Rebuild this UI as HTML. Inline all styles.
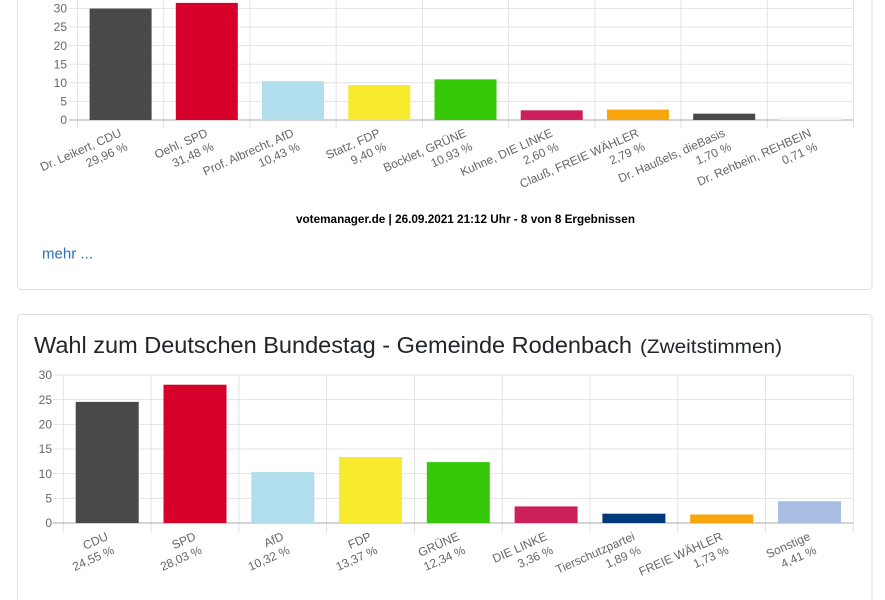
<!DOCTYPE html>
<html><head><meta charset="utf-8"><style>
html,body{margin:0;padding:0;background:#fff;width:885px;height:600px;overflow:hidden}
svg{display:block}
text{font-family:"Liberation Sans",Arial,sans-serif}
.t{fill:#666;font-size:12px}
</style></head><body>
<svg width="885" height="600" viewBox="0 0 885 600" xmlns="http://www.w3.org/2000/svg">
<!-- cards -->
<rect x="17.5" y="-10" width="854.5" height="299.5" rx="4" fill="none" stroke="#dedede"/>
<rect x="17.5" y="314.5" width="854.5" height="300" rx="4" fill="none" stroke="#dedede"/>

<!-- TOP CHART gridlines -->
<g stroke="#e3e3e3" stroke-width="1">
<line x1="69" y1="8.4" x2="853" y2="8.4"/>
<line x1="69" y1="27" x2="853" y2="27"/>
<line x1="69" y1="45.6" x2="853" y2="45.6"/>
<line x1="69" y1="64.2" x2="853" y2="64.2"/>
<line x1="69" y1="82.8" x2="853" y2="82.8"/>
<line x1="69" y1="101.4" x2="853" y2="101.4"/>
<line x1="77.5" y1="-20" x2="77.5" y2="128"/>
<line x1="163.7" y1="-20" x2="163.7" y2="128"/>
<line x1="249.9" y1="-20" x2="249.9" y2="128"/>
<line x1="336.2" y1="-20" x2="336.2" y2="128"/>
<line x1="422.4" y1="-20" x2="422.4" y2="128"/>
<line x1="508.6" y1="-20" x2="508.6" y2="128"/>
<line x1="594.8" y1="-20" x2="594.8" y2="128"/>
<line x1="681.0" y1="-20" x2="681.0" y2="128"/>
<line x1="767.3" y1="-20" x2="767.3" y2="128"/>
<line x1="853.5" y1="-20" x2="853.5" y2="128"/>
</g>
<line x1="69" y1="120" x2="853.5" y2="120" stroke="#a8a8a8"/>
<g class="t" text-anchor="end">
<text x="67" y="12.6">30</text>
<text x="67" y="31.2">25</text>
<text x="67" y="49.8">20</text>
<text x="67" y="68.4">15</text>
<text x="67" y="87">10</text>
<text x="67" y="105.6">5</text>
<text x="67" y="124.2">0</text>
</g>
<!-- top bars -->
<rect x="89.6" y="8.55" width="62" height="111.45" fill="#494949"/>
<rect x="175.8" y="2.9" width="62" height="117.1" fill="#d6002a"/>
<rect x="262.0" y="81.2" width="62" height="38.8" fill="#b0deed"/>
<rect x="348.3" y="85.03" width="62" height="34.97" fill="#f8ea2e"/>
<rect x="434.5" y="79.34" width="62" height="40.66" fill="#35c90a"/>
<rect x="520.7" y="110.33" width="62" height="9.67" fill="#cc1f5b"/>
<rect x="606.9" y="109.62" width="62" height="10.38" fill="#f7a50b"/>
<rect x="693.2" y="113.68" width="62" height="6.32" fill="#494949"/>
<rect x="779.4" y="117.36" width="62" height="2.64" fill="#eef3f7"/>
<!-- top x labels -->
<g class="t" text-anchor="end">
<g transform="translate(120.6,132) rotate(-24)"><text x="0" y="4.2">Dr. Leikert, CDU</text><text x="0" y="19.2">29,96 %</text></g>
<g transform="translate(206.8,132) rotate(-24)"><text x="0" y="4.2">Oehl, SPD</text><text x="0" y="19.2">31,48 %</text></g>
<g transform="translate(293.0,132) rotate(-24)"><text x="0" y="4.2">Prof. Albrecht, AfD</text><text x="0" y="19.2">10,43 %</text></g>
<g transform="translate(379.3,132) rotate(-24)"><text x="0" y="4.2">Statz, FDP</text><text x="0" y="19.2">9,40 %</text></g>
<g transform="translate(465.5,132) rotate(-24)"><text x="0" y="4.2">Bocklet, GRÜNE</text><text x="0" y="19.2">10,93 %</text></g>
<g transform="translate(551.7,132) rotate(-24)"><text x="0" y="4.2">Kuhne, DIE LINKE</text><text x="0" y="19.2">2,60 %</text></g>
<g transform="translate(637.9,132) rotate(-24)"><text x="0" y="4.2">Clauß, FREIE WÄHLER</text><text x="0" y="19.2">2,79 %</text></g>
<g transform="translate(724.2,132) rotate(-24)"><text x="0" y="4.2">Dr. Haußels, dieBasis</text><text x="0" y="19.2">1,70 %</text></g>
<g transform="translate(810.4,132) rotate(-24)"><text x="0" y="4.2">Dr. Rehbein, REHBEIN</text><text x="0" y="19.2">0,71 %</text></g>
</g>
<text x="465.5" y="223" text-anchor="middle" font-size="12" font-weight="bold" fill="#000" textLength="339" lengthAdjust="spacingAndGlyphs">votemanager.de | 26.09.2021 21:12 Uhr - 8 von 8 Ergebnissen</text>
<text x="42" y="258.5" font-size="15" fill="#2f6fba" textLength="51" lengthAdjust="spacingAndGlyphs">mehr ...</text>

<!-- BOTTOM CARD title -->
<text x="34" y="353" font-size="23.5" fill="#212529" textLength="598" lengthAdjust="spacingAndGlyphs">Wahl zum Deutschen Bundestag - Gemeinde Rodenbach</text>
<text x="640" y="353" font-size="19" fill="#212529" textLength="142" lengthAdjust="spacingAndGlyphs">(Zweitstimmen)</text>

<!-- BOTTOM CHART gridlines -->
<g stroke="#e3e3e3" stroke-width="1">
<line x1="53" y1="375" x2="853" y2="375"/>
<line x1="53" y1="399.67" x2="853" y2="399.67"/>
<line x1="53" y1="424.33" x2="853" y2="424.33"/>
<line x1="53" y1="449" x2="853" y2="449"/>
<line x1="53" y1="473.67" x2="853" y2="473.67"/>
<line x1="53" y1="498.33" x2="853" y2="498.33"/>
<line x1="63.3" y1="375" x2="63.3" y2="533"/>
<line x1="151.1" y1="375" x2="151.1" y2="533"/>
<line x1="238.9" y1="375" x2="238.9" y2="533"/>
<line x1="326.6" y1="375" x2="326.6" y2="533"/>
<line x1="414.4" y1="375" x2="414.4" y2="533"/>
<line x1="502.2" y1="375" x2="502.2" y2="533"/>
<line x1="590.0" y1="375" x2="590.0" y2="533"/>
<line x1="677.8" y1="375" x2="677.8" y2="533"/>
<line x1="765.5" y1="375" x2="765.5" y2="533"/>
<line x1="853.3" y1="375" x2="853.3" y2="533"/>
</g>
<line x1="53" y1="523" x2="853.3" y2="523" stroke="#a8a8a8"/>
<g class="t" text-anchor="end">
<text x="52" y="379.2">30</text>
<text x="52" y="403.9">25</text>
<text x="52" y="428.5">20</text>
<text x="52" y="453.2">15</text>
<text x="52" y="477.9">10</text>
<text x="52" y="502.5">5</text>
<text x="52" y="527.2">0</text>
</g>
<!-- bottom bars -->
<rect x="75.7" y="401.9" width="63" height="121.1" fill="#494949"/>
<rect x="163.5" y="384.72" width="63" height="138.28" fill="#d6002a"/>
<rect x="251.3" y="472.09" width="63" height="50.91" fill="#b0deed"/>
<rect x="339.0" y="457.04" width="63" height="65.96" fill="#f8ea2e"/>
<rect x="426.8" y="462.12" width="63" height="60.88" fill="#35c90a"/>
<rect x="514.6" y="506.42" width="63" height="16.58" fill="#cc1f5b"/>
<rect x="602.4" y="513.68" width="63" height="9.32" fill="#003a7a"/>
<rect x="690.2" y="514.47" width="63" height="8.53" fill="#f7a50b"/>
<rect x="778.0" y="501.24" width="63" height="21.76" fill="#a9bde3"/>
<!-- bottom x labels -->
<g class="t" text-anchor="end">
<g transform="translate(107.2,535.5) rotate(-24)"><text x="0" y="4.2">CDU</text><text x="0" y="19.2">24,55 %</text></g>
<g transform="translate(195.0,535.5) rotate(-24)"><text x="0" y="4.2">SPD</text><text x="0" y="19.2">28,03 %</text></g>
<g transform="translate(282.8,535.5) rotate(-24)"><text x="0" y="4.2">AfD</text><text x="0" y="19.2">10,32 %</text></g>
<g transform="translate(370.5,535.5) rotate(-24)"><text x="0" y="4.2">FDP</text><text x="0" y="19.2">13,37 %</text></g>
<g transform="translate(458.3,535.5) rotate(-24)"><text x="0" y="4.2">GRÜNE</text><text x="0" y="19.2">12,34 %</text></g>
<g transform="translate(546.1,535.5) rotate(-24)"><text x="0" y="4.2">DIE LINKE</text><text x="0" y="19.2">3,36 %</text></g>
<g transform="translate(633.9,535.5) rotate(-24)"><text x="0" y="4.2">Tierschutzpartei</text><text x="0" y="19.2">1,89 %</text></g>
<g transform="translate(721.7,535.5) rotate(-24)"><text x="0" y="4.2">FREIE WÄHLER</text><text x="0" y="19.2">1,73 %</text></g>
<g transform="translate(809.4,535.5) rotate(-24)"><text x="0" y="4.2">Sonstige</text><text x="0" y="19.2">4,41 %</text></g>
</g>
</svg>
</body></html>
